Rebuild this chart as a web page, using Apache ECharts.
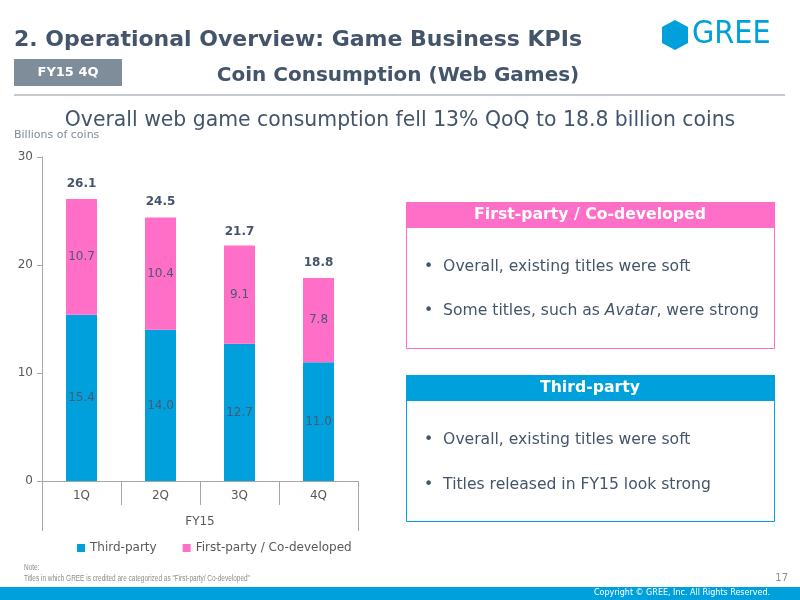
<!DOCTYPE html>
<html>
<head>
    <meta charset="utf-8">
    <title>Coin Consumption (Web Games)</title>
    <script type="text/javascript" src="https://cdn.jsdelivr.net/npm/echarts@6/dist/echarts.min.js"></script>
    <style>
        body { margin: 0; background: #fff; }
    </style>
</head>
<body>
<div id="main" style="width: 800px;height:600px;"></div>
<script type="text/javascript">
    // 数据
    var quarters = ['1Q', '2Q', '3Q', '4Q'];
    var fiscalYear = ['FY15'];
    var thirdParty = [15.4, 14.0, 12.7, 11.0];
    var firstParty = [10.7, 10.4, 9.1, 7.8];
    var totals = [26.1, 24.5, 21.7, 18.8];
    var yTicks = [0, 10, 20, 30];

    var BLUE = '#00A0DC';
    var PINK = '#FF6EC7';
    var SLATE = '#44546A';
    var FONT = 'DejaVu Sans';

    var myChart = echarts.init(document.getElementById('main'));

    // 文本小工具
    function txt(opt, text, size, color, weight) {
        opt.style = Object.assign({
            text: text, fill: color, fontSize: size, fontFamily: FONT,
            fontWeight: weight || 'normal'
        }, opt.style || {});
        opt.type = 'text';
        return opt;
    }

    var option = {
        backgroundColor: '#fff',
        textStyle: { fontFamily: FONT },
        grid: { left: 42, top: 157, width: 316, height: 324 },
        legend: {
            data: ['Third-party', 'First-party / Co-developed'],
            left: 72, top: 537,
            icon: 'rect', itemWidth: 8, itemHeight: 8, itemGap: 26,
            textStyle: { color: '#595959', fontSize: 12, fontFamily: FONT }
        },
        xAxis: [{
            type: 'category',
            data: quarters,
            axisLine: { lineStyle: { color: '#A6A6A6' } },
            axisTick: { show: true, length: 24, lineStyle: { color: '#A6A6A6' } },
            axisLabel: { color: '#595959', fontSize: 12, margin: 9, fontFamily: FONT }
        }, {
            type: 'category',
            data: fiscalYear,
            position: 'bottom',
            axisLine: { lineStyle: { color: '#A6A6A6' } },
            axisTick: { show: true, length: 50, lineStyle: { color: '#A6A6A6' } },
            axisLabel: { color: '#595959', fontSize: 12, margin: 35, fontFamily: FONT }
        }],
        yAxis: {
            type: 'value',
            min: 0, max: 30, interval: 10,
            splitLine: { show: false },
            axisLine: { show: true, lineStyle: { color: '#A6A6A6' } },
            axisTick: { show: true, length: 5, lineStyle: { color: '#A6A6A6' } },
            axisLabel: { color: '#595959', fontSize: 12, margin: 9, fontFamily: FONT,
                customValues: yTicks }
        },
        series: [{
            // 合计标签（透明柱）
            name: 'Total',
            type: 'bar',
            barWidth: 31,
            barGap: '-100%',
            data: totals,
            silent: true,
            itemStyle: { color: 'rgba(0,0,0,0)' },
            label: { show: true, position: 'top', distance: 9, color: SLATE,
                fontSize: 12, fontWeight: 'bold', fontFamily: FONT,
                formatter: function (p) { return p.value.toFixed(1); } }
        }, {
            name: 'Third-party',
            type: 'bar',
            stack: 'coins',
            barWidth: 31,
            barGap: '-100%',
            data: thirdParty,
            itemStyle: { color: BLUE },
            label: { show: true, position: 'inside', color: '#4A5A70', fontSize: 12, fontFamily: FONT,
                formatter: function (p) { return p.value.toFixed(1); } }
        }, {
            name: 'First-party / Co-developed',
            type: 'bar',
            stack: 'coins',
            barWidth: 31,
            data: firstParty,
            itemStyle: { color: PINK },
            label: { show: true, position: 'inside', color: '#4A5A70', fontSize: 12, fontFamily: FONT,
                formatter: function (p) { return p.value.toFixed(1); } }
        }],
        graphic: [
            // 标题
            txt({ left: 14, top: 29 }, '2. Operational Overview: Game Business KPIs', 22, SLATE, 'bold'),
            // GREE logo
            { type: 'polygon', shape: { points: [[675, 20], [688, 27], [688, 43], [675, 50], [662, 43], [662, 27]] },
              style: { fill: BLUE } },
            { type: 'text', left: 692, top: 19,
              style: { text: 'GREE', fill: BLUE, fontSize: 32, fontFamily: 'DejaVu Sans Condensed' } },
            // FY15 4Q 标签
            { type: 'rect', shape: { x: 14, y: 59, width: 108, height: 27 }, style: { fill: '#7F8C9A' } },
            txt({ x: 68, y: 73, style: { align: 'center', verticalAlign: 'middle' } }, 'FY15 4Q', 13, '#fff', 'bold'),
            txt({ x: 398, y: 76, style: { align: 'center', verticalAlign: 'middle' } }, 'Coin Consumption (Web Games)', 20, SLATE, 'bold'),
            { type: 'line', shape: { x1: 14, y1: 95, x2: 785, y2: 95 }, style: { stroke: '#8C96A3', lineWidth: 1 } },
            txt({ x: 400, y: 121, style: { align: 'center', verticalAlign: 'middle' } },
                'Overall web game consumption fell 13% QoQ to 18.8 billion coins', 20.4, SLATE),
            txt({ left: 14, top: 130 }, 'Billions of coins', 11, '#7F8C9A'),
            // 右侧说明框
            { type: 'rect', shape: { x: 406.5, y: 202.5, width: 368, height: 146 }, style: { fill: '#fff', stroke: PINK, lineWidth: 1 } },
            { type: 'rect', shape: { x: 406, y: 202, width: 369, height: 26 }, style: { fill: PINK } },
            txt({ x: 590, y: 215, style: { align: 'center', verticalAlign: 'middle' } }, 'First-party / Co-developed', 15.7, '#fff', 'bold'),
            txt({ left: 424, top: 259 }, '•  Overall, existing titles were soft', 15.6, SLATE),
            txt({ left: 424, top: 303, style: { rich: { i: { fontStyle: 'italic', fontSize: 15.6, fontFamily: FONT, fill: SLATE } } } },
                '•  Some titles, such as {i|Avatar}, were strong', 15.6, SLATE),
            { type: 'rect', shape: { x: 406.5, y: 375.5, width: 368, height: 146 }, style: { fill: '#fff', stroke: BLUE, lineWidth: 1 } },
            { type: 'rect', shape: { x: 406, y: 375, width: 369, height: 26 }, style: { fill: BLUE } },
            txt({ x: 590, y: 388, style: { align: 'center', verticalAlign: 'middle' } }, 'Third-party', 15.7, '#fff', 'bold'),
            txt({ left: 424, top: 432 }, '•  Overall, existing titles were soft', 15.6, SLATE),
            txt({ left: 424, top: 477 }, '•  Titles released in FY15 look strong', 15.6, SLATE),
            // 注释与页脚
            { type: 'text', x: 24, y: 563, scaleX: 0.76, originX: 0,
              style: { text: 'Note:', fill: '#8C8C8C', fontSize: 8.5, fontFamily: 'Liberation Sans' } },
            { type: 'text', x: 24, y: 574, scaleX: 0.76, originX: 0,
              style: { text: 'Titles in which GREE is credited are categorized as "First-party/ Co-developed"', fill: '#8C8C8C', fontSize: 8.5, fontFamily: 'Liberation Sans' } },
            txt({ right: 12, top: 573 }, '17', 10, '#8C8C8C'),
            { type: 'rect', shape: { x: 0, y: 587, width: 800, height: 13 }, style: { fill: BLUE } },
            txt({ right: 30, top: 589 }, 'Copyright © GREE, Inc. All Rights Reserved.', 8, '#fff')
        ]
    };

    myChart.setOption(option);
</script>
</body>
</html>
